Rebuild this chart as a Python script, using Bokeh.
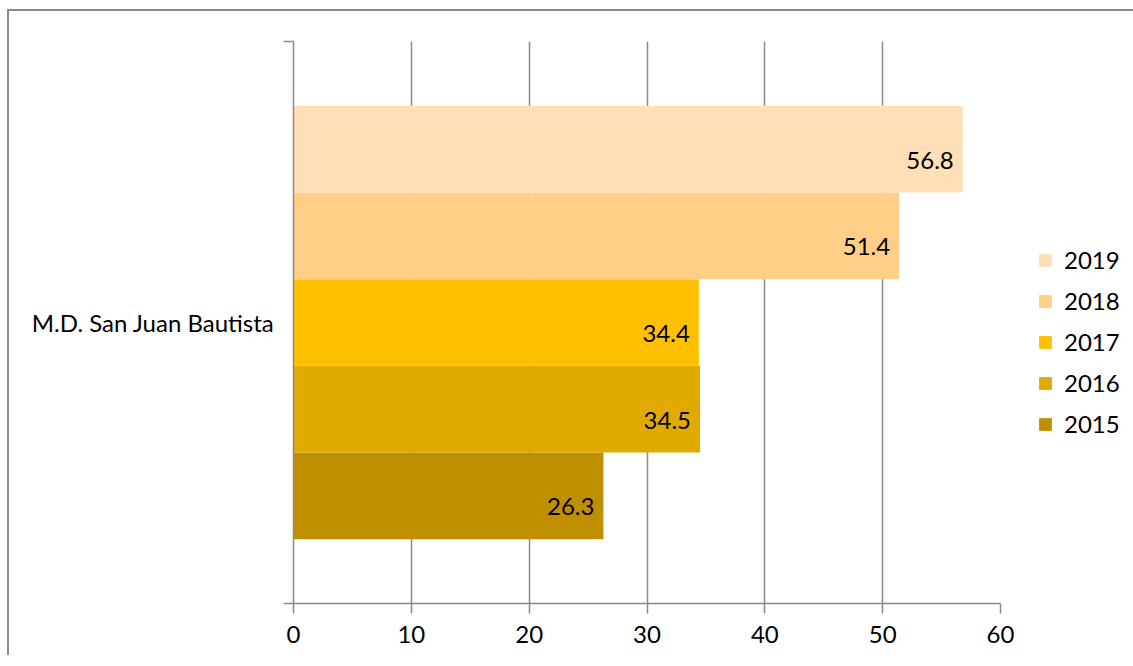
from bokeh.plotting import figure
from bokeh.models import (Range1d, FixedTicker, Legend, LegendItem, ColumnDataSource)
from bokeh.core.properties import value
from bokeh.embed import file_html
from bokeh.resources import INLINE

# ---- data ----
category = "M.D. San Juan Bautista"
years = ["2015", "2016", "2017", "2018", "2019"]
values = [26.3, 34.5, 34.4, 51.4, 56.8]
colors = ["#BF8F00", "#E0AA00", "#FFC000", "#FFCF87", "#FFDFB8"]
x_ticks = [0, 10, 20, 30, 40, 50, 60]

FONT = "Lato"
FS = "24px"
GRAY = "#8a8a8a"
pad = 0.74
n = len(years)
ypos = list(range(n))
y0, y1 = -0.5 - pad, (n - 0.5) + pad
ycenter = (y0 + y1) / 2

p = figure(frame_width=707, frame_height=562,
           min_border_left=284, min_border_top=30, min_border_right=125, min_border_bottom=52,
           x_range=Range1d(0, 60), y_range=Range1d(y0, y1),
           output_backend="svg", toolbar_location=None)
p.styles = {"margin-left": "7px", "margin-top": "9px",
            "border-left": "2px solid #8c8c8c", "border-top": "2px solid #8c8c8c"}
p.outline_line_color = None
p.background_fill_color = "white"

renderers = []
for i, (yr, v, c) in enumerate(zip(years, values, colors)):
    src = ColumnDataSource(dict(y=[ypos[i]], right=[v]))
    r = p.hbar(y="y", left=0, right="right", height=1.0, source=src,
               fill_color=c, line_color=None)
    renderers.append((yr, r))

lab = ColumnDataSource(dict(x=values, y=ypos, t=[f"{v:.1f}" for v in values]))
p.text(x="x", y="y", text="t", source=lab, text_align="right", text_baseline="middle",
       x_offset=-9, y_offset=11, text_font=value(FONT), text_font_size=FS,
       text_color="#000000")

# x axis
xa = p.xaxis[0]
xa.ticker = FixedTicker(ticks=x_ticks, minor_ticks=[])
xa.axis_line_color = GRAY
xa.axis_line_width = 1.5
xa.major_tick_line_color = GRAY
xa.major_tick_line_width = 1.5
xa.major_tick_out = 10
xa.major_tick_in = 0
xa.minor_tick_line_color = None
xa.major_label_text_font = FONT
xa.major_label_text_font_size = FS
xa.major_label_text_color = "#000000"
xa.major_label_standoff = 12

# y axis
ya = p.yaxis[0]
ya.ticker = FixedTicker(ticks=[ycenter], minor_ticks=[y0, y1])
ya.major_label_overrides = {ycenter: category}
ya.axis_line_color = GRAY
ya.axis_line_width = 1.5
ya.major_tick_line_color = None
ya.major_tick_out = 0
ya.major_tick_in = 0
ya.minor_tick_line_color = GRAY
ya.minor_tick_line_width = 1.5
ya.minor_tick_out = 10
ya.minor_tick_in = 0
ya.major_label_text_font = FONT
ya.major_label_text_font_size = FS
ya.major_label_text_color = "#000000"
ya.major_label_standoff = 9

p.xgrid.ticker = FixedTicker(ticks=x_ticks)
p.xgrid.grid_line_color = GRAY
p.xgrid.grid_line_width = 1.5
p.ygrid.visible = False

items = [LegendItem(label=yr, renderers=[r]) for yr, r in reversed(renderers)]
legend = Legend(items=items, location=(37, 165), orientation="vertical",
                glyph_width=16, glyph_height=16, label_standoff=11, spacing=12,
                padding=0, margin=0, border_line_color=None, background_fill_alpha=0,
                label_text_font=FONT, label_text_font_size=FS, label_text_color="#000000")
p.add_layout(legend, "right")

open("out.html", "w").write(file_html(p, INLINE))
